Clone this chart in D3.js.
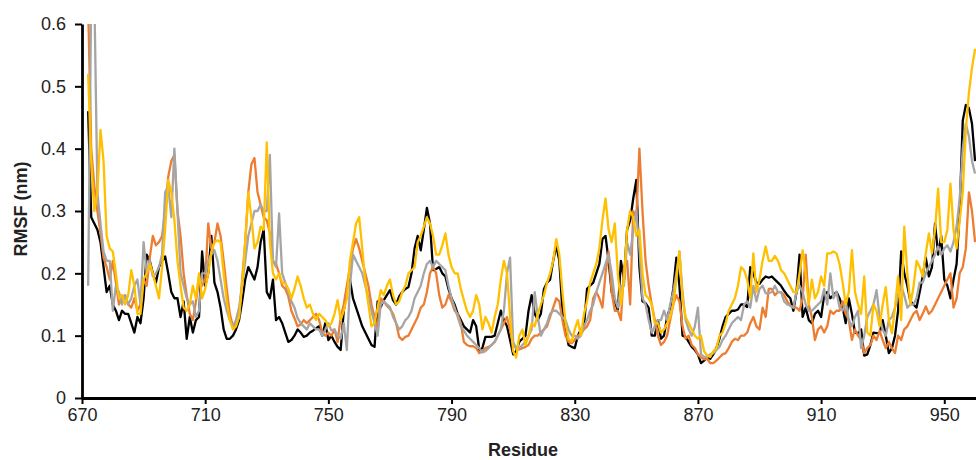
<!DOCTYPE html>
<html>
<head>
<meta charset="utf-8">
<script src="https://d3js.org/d3.v7.min.js"></script>
<style>
  body { margin: 0; background: #fff; }
  .chart text { font-family: "Liberation Sans", Arial, sans-serif; fill: #222; }
  .axis path, .axis line { stroke: #000; }
</style>
</head>
<body>
<div class="chart"></div>
<script>
// RMSF per residue, one value per residue starting at residue 672
var firstResidue = 672;

var xTicks = [670, 710, 750, 790, 830, 870, 910, 950];
var yTicks = [0, 0.1, 0.2, 0.3, 0.4, 0.5, 0.6];

var blackRmsf = [
  0.46, 0.29, 0.28, 0.27, 0.25, 0.21, 0.17, 0.18, 0.15, 0.14,
  0.125, 0.14, 0.135, 0.135, 0.12, 0.105, 0.13, 0.12, 0.16, 0.23,
  0.22, 0.2, 0.185, 0.21, 0.22, 0.227, 0.2, 0.17, 0.16, 0.16,
  0.13, 0.155, 0.095, 0.13, 0.105, 0.125, 0.13, 0.235, 0.18, 0.2,
  0.26, 0.185, 0.17, 0.145, 0.11, 0.095, 0.095, 0.1, 0.11, 0.125,
  0.155, 0.19, 0.21, 0.2, 0.19, 0.21, 0.25, 0.27, 0.17, 0.16,
  0.19, 0.125, 0.13, 0.12, 0.105, 0.09, 0.093, 0.1, 0.11, 0.105,
  0.098, 0.1, 0.105, 0.108, 0.112, 0.115, 0.1, 0.12, 0.093, 0.1,
  0.09, 0.082, 0.077, 0.14, 0.175, 0.19, 0.16, 0.145, 0.13, 0.115,
  0.105, 0.095, 0.085, 0.082, 0.155, 0.146, 0.157, 0.165, 0.173, 0.157,
  0.15, 0.163, 0.17, 0.175, 0.178, 0.2, 0.24, 0.26, 0.237, 0.27,
  0.305, 0.28, 0.205, 0.207, 0.21, 0.2, 0.195, 0.175, 0.16, 0.15,
  0.135, 0.125, 0.115, 0.11, 0.105, 0.125, 0.115, 0.077, 0.08, 0.098,
  0.098, 0.098, 0.1, 0.12, 0.14, 0.125, 0.115, 0.093, 0.07, 0.075,
  0.09, 0.095, 0.1, 0.14, 0.165, 0.135, 0.125, 0.135, 0.175, 0.185,
  0.19, 0.22, 0.245, 0.22, 0.14, 0.11, 0.085, 0.082, 0.08, 0.1,
  0.11, 0.115, 0.175, 0.18, 0.185, 0.2, 0.215, 0.255, 0.26, 0.22,
  0.17, 0.155, 0.14, 0.22, 0.19, 0.27, 0.285, 0.32, 0.35, 0.21,
  0.155, 0.152, 0.145, 0.1, 0.1, 0.125, 0.095, 0.1, 0.13, 0.145,
  0.175, 0.225, 0.18, 0.1, 0.098, 0.09, 0.082, 0.077, 0.07, 0.056,
  0.06, 0.065, 0.063, 0.07, 0.08, 0.095, 0.115, 0.13, 0.135, 0.14,
  0.14, 0.142, 0.15, 0.15, 0.146, 0.21, 0.2, 0.185, 0.183, 0.19,
  0.195, 0.193, 0.195, 0.19, 0.185, 0.18, 0.172, 0.165, 0.16, 0.14,
  0.17, 0.23, 0.13, 0.145, 0.125, 0.12, 0.135, 0.14, 0.13, 0.165,
  0.17, 0.16, 0.165, 0.17, 0.16, 0.145, 0.12, 0.16, 0.135, 0.105,
  0.104, 0.11, 0.068, 0.07, 0.085, 0.105, 0.104, 0.104, 0.125, 0.1,
  0.072, 0.08, 0.1, 0.14, 0.235, 0.2, 0.18, 0.155, 0.15, 0.145,
  0.17, 0.195, 0.225, 0.195, 0.21, 0.28, 0.23, 0.26, 0.19, 0.18,
  0.16, 0.19, 0.215, 0.3, 0.445, 0.47, 0.465, 0.44, 0.38
];

var orangeRmsf = [
  0.63, 0.4, 0.34, 0.3, 0.265, 0.225, 0.21, 0.19, 0.22, 0.185,
  0.15, 0.16, 0.165, 0.15, 0.145, 0.16, 0.14, 0.15, 0.19, 0.18,
  0.225, 0.26, 0.245, 0.25, 0.26, 0.3, 0.355, 0.38, 0.39, 0.3,
  0.26, 0.2, 0.165, 0.135, 0.125, 0.155, 0.19, 0.18, 0.19, 0.28,
  0.24, 0.25, 0.28, 0.26, 0.22, 0.175, 0.135, 0.115, 0.118, 0.13,
  0.19, 0.25, 0.33, 0.375, 0.385, 0.33, 0.31, 0.29, 0.285, 0.265,
  0.22, 0.215, 0.2, 0.18, 0.175, 0.163, 0.14, 0.128, 0.115, 0.118,
  0.125, 0.12, 0.125, 0.13, 0.135, 0.125, 0.105, 0.1, 0.105, 0.1,
  0.11, 0.09, 0.13, 0.15, 0.18, 0.21, 0.24, 0.255, 0.24, 0.22,
  0.2, 0.18, 0.15, 0.13, 0.11, 0.16, 0.155, 0.148, 0.143, 0.135,
  0.12, 0.098, 0.093, 0.098, 0.1, 0.11, 0.12, 0.13, 0.145, 0.15,
  0.17, 0.2, 0.21, 0.2, 0.165, 0.145, 0.15, 0.165, 0.155, 0.14,
  0.135, 0.12, 0.09, 0.085, 0.083, 0.083, 0.08, 0.072, 0.075, 0.08,
  0.082, 0.085, 0.09, 0.1, 0.11, 0.12, 0.13, 0.11, 0.085, 0.08,
  0.078, 0.08, 0.082, 0.085, 0.095, 0.1, 0.1, 0.105, 0.11, 0.115,
  0.13, 0.145, 0.16, 0.155, 0.125, 0.1, 0.09, 0.088, 0.093, 0.1,
  0.103, 0.11, 0.115, 0.125, 0.16, 0.17, 0.16, 0.145, 0.2, 0.235,
  0.17, 0.14, 0.14, 0.125, 0.21, 0.22, 0.15, 0.3, 0.29, 0.4,
  0.3, 0.22, 0.18, 0.15, 0.125, 0.1, 0.085, 0.09, 0.1, 0.125,
  0.15, 0.165, 0.155, 0.115, 0.095, 0.1, 0.085, 0.08, 0.07, 0.065,
  0.062, 0.063, 0.056, 0.056, 0.06, 0.065, 0.07, 0.072, 0.08, 0.09,
  0.095, 0.093, 0.1, 0.1, 0.105, 0.12, 0.13, 0.115, 0.11, 0.145,
  0.13, 0.175, 0.175, 0.165, 0.17, 0.17, 0.165, 0.155, 0.148, 0.145,
  0.145, 0.14, 0.16, 0.23, 0.15, 0.13, 0.093, 0.11, 0.115, 0.105,
  0.115, 0.14, 0.135, 0.14, 0.14, 0.155, 0.135, 0.125, 0.093, 0.11,
  0.1, 0.093, 0.072, 0.08, 0.085, 0.1, 0.093, 0.108, 0.093, 0.08,
  0.09, 0.08, 0.072, 0.1, 0.093, 0.11, 0.115, 0.125, 0.135, 0.14,
  0.125, 0.135, 0.147, 0.135, 0.14, 0.15, 0.16, 0.17, 0.18, 0.19,
  0.2, 0.145, 0.16, 0.2, 0.21, 0.24, 0.33, 0.3, 0.25
];

var grayRmsf = [
  0.18, 0.65, 0.65, 0.33, 0.28, 0.235, 0.22, 0.22, 0.14, 0.18,
  0.17, 0.15, 0.165, 0.15, 0.16, 0.18, 0.19, 0.15, 0.25, 0.2,
  0.22, 0.195, 0.2, 0.21, 0.23, 0.33, 0.34, 0.29, 0.4, 0.3,
  0.2, 0.18, 0.16, 0.15, 0.155, 0.13, 0.14, 0.2, 0.2, 0.22,
  0.23, 0.237, 0.22, 0.19, 0.16, 0.14, 0.125, 0.115, 0.125, 0.145,
  0.18, 0.22, 0.26, 0.28, 0.3, 0.3, 0.31, 0.3, 0.3, 0.39,
  0.22, 0.21, 0.296, 0.2, 0.185, 0.17, 0.155, 0.145, 0.128, 0.12,
  0.115, 0.11, 0.12, 0.115, 0.11, 0.11, 0.1, 0.11, 0.12, 0.108,
  0.11, 0.1, 0.095, 0.12, 0.077, 0.18, 0.23, 0.22, 0.21, 0.2,
  0.18, 0.16, 0.14, 0.12, 0.1, 0.15, 0.155, 0.15, 0.146, 0.13,
  0.12, 0.11, 0.115, 0.125, 0.13, 0.14, 0.16, 0.17, 0.18, 0.2,
  0.215, 0.22, 0.21, 0.22, 0.215, 0.21, 0.205, 0.18, 0.16, 0.145,
  0.13, 0.115, 0.108, 0.1, 0.095, 0.09, 0.085, 0.08, 0.073, 0.075,
  0.08, 0.085, 0.09, 0.1, 0.11, 0.14, 0.2, 0.225, 0.09, 0.08,
  0.08, 0.085, 0.09, 0.1, 0.11, 0.17, 0.13, 0.1, 0.11, 0.12,
  0.135, 0.14, 0.14, 0.135, 0.13, 0.125, 0.11, 0.1, 0.1, 0.095,
  0.1, 0.115, 0.125, 0.14, 0.15, 0.17, 0.185, 0.2, 0.215, 0.23,
  0.2, 0.16, 0.145, 0.18, 0.18, 0.25, 0.23, 0.27, 0.3, 0.24,
  0.16, 0.15, 0.125, 0.105, 0.115, 0.125, 0.125, 0.14, 0.125, 0.15,
  0.17, 0.2, 0.235, 0.17, 0.125, 0.11, 0.1, 0.115, 0.145, 0.07,
  0.066, 0.066, 0.07, 0.072, 0.077, 0.082, 0.093, 0.1, 0.11, 0.12,
  0.125, 0.13, 0.125, 0.15, 0.155, 0.145, 0.18, 0.155, 0.175, 0.18,
  0.168, 0.168, 0.17, 0.18, 0.17, 0.17, 0.155, 0.15, 0.148, 0.145,
  0.17, 0.18, 0.17, 0.15, 0.14, 0.14, 0.145, 0.15, 0.155, 0.175,
  0.15, 0.2, 0.16, 0.17, 0.145, 0.14, 0.155, 0.125, 0.115, 0.13,
  0.14, 0.08, 0.1, 0.13, 0.14, 0.15, 0.173, 0.13, 0.11, 0.1,
  0.125, 0.13, 0.145, 0.165, 0.18, 0.165, 0.145, 0.15, 0.15, 0.16,
  0.185, 0.185, 0.2, 0.21, 0.22, 0.23, 0.243, 0.23, 0.24, 0.245,
  0.235, 0.25, 0.275, 0.32, 0.4, 0.44, 0.42, 0.38, 0.36
];

var goldRmsf = [
  0.52, 0.38, 0.3, 0.33, 0.43, 0.38, 0.26, 0.24, 0.235, 0.2,
  0.16, 0.165, 0.15, 0.165, 0.205, 0.18, 0.135, 0.135, 0.19, 0.2,
  0.215, 0.2, 0.18, 0.16, 0.21, 0.27, 0.35, 0.33, 0.285, 0.22,
  0.18, 0.145, 0.14, 0.15, 0.18, 0.16, 0.2, 0.16, 0.175, 0.2,
  0.235, 0.25, 0.253, 0.25, 0.2, 0.155, 0.125, 0.11, 0.115, 0.13,
  0.18, 0.25, 0.33, 0.29, 0.24, 0.25, 0.275, 0.27, 0.41, 0.25,
  0.2, 0.19, 0.2, 0.185, 0.184, 0.175, 0.16, 0.175, 0.195, 0.18,
  0.16, 0.145, 0.15, 0.135, 0.125, 0.135, 0.13, 0.125, 0.115, 0.12,
  0.135, 0.157, 0.125, 0.14, 0.16, 0.22, 0.25, 0.28, 0.29, 0.24,
  0.185, 0.15, 0.115, 0.12, 0.145, 0.173, 0.165, 0.18, 0.19, 0.165,
  0.15, 0.155, 0.17, 0.18, 0.2, 0.205, 0.21, 0.25, 0.26, 0.275,
  0.29, 0.28, 0.26, 0.23, 0.23, 0.245, 0.264, 0.23, 0.21, 0.2,
  0.2, 0.175, 0.157, 0.14, 0.13, 0.14, 0.165, 0.15, 0.11, 0.13,
  0.12, 0.105, 0.13, 0.15, 0.19, 0.22, 0.2, 0.13, 0.075, 0.065,
  0.1, 0.11, 0.085, 0.1, 0.12, 0.115, 0.135, 0.15, 0.165, 0.185,
  0.2, 0.22, 0.255, 0.23, 0.17, 0.12, 0.095, 0.09, 0.11, 0.125,
  0.1, 0.135, 0.155, 0.185, 0.2, 0.215, 0.24, 0.285, 0.32, 0.27,
  0.25, 0.28, 0.2, 0.15, 0.19, 0.27, 0.3, 0.29, 0.26, 0.27,
  0.2, 0.165, 0.16, 0.15, 0.12, 0.12, 0.105, 0.11, 0.12, 0.13,
  0.15, 0.19, 0.235, 0.16, 0.13, 0.12, 0.11, 0.1, 0.095, 0.1,
  0.075, 0.068, 0.066, 0.075, 0.08, 0.1, 0.105, 0.12, 0.14, 0.15,
  0.16, 0.18, 0.21, 0.205, 0.19, 0.16, 0.232, 0.17, 0.19, 0.22,
  0.243, 0.22, 0.22, 0.228, 0.22, 0.205, 0.2, 0.19, 0.18, 0.17,
  0.17, 0.2, 0.237, 0.2, 0.15, 0.19, 0.16, 0.17, 0.195, 0.18,
  0.232, 0.232, 0.235, 0.232, 0.215, 0.185, 0.15, 0.17, 0.237, 0.17,
  0.15, 0.135, 0.195, 0.105, 0.1, 0.15, 0.14, 0.115, 0.15, 0.178,
  0.125, 0.104, 0.145, 0.195, 0.125, 0.275, 0.2, 0.15, 0.178, 0.22,
  0.21, 0.195, 0.232, 0.264, 0.232, 0.27, 0.336, 0.25, 0.25, 0.27,
  0.344, 0.27, 0.24, 0.285, 0.33, 0.43, 0.49, 0.53, 0.56
];

// drawn in this order, last one on top
var series = [
  {name: "black", color: "#000000", values: blackRmsf},
  {name: "orange", color: "#ED7D31", values: orangeRmsf},
  {name: "gray", color: "#A5A5A5", values: grayRmsf},
  {name: "gold", color: "#FFC000", values: goldRmsf}
];

var svgWidth = 976;
var svgHeight = 460;

var margin = {
  top: 24,
  right: 0,
  bottom: 62,
  left: 82
};

var height = svgHeight - margin.top - margin.bottom;
var width = svgWidth - margin.left - margin.right;

var svg = d3.select(".chart")
  .append("svg")
  .attr("width", svgWidth)
  .attr("height", svgHeight);

var chartGroup = svg.append("g")
  .attr("transform", `translate(${margin.left}, ${margin.top})`);

// scales
var xLinearScale = d3.scaleLinear()
  .domain([670, 960.3])
  .range([0, width]);

var yLinearScale = d3.scaleLinear()
  .domain([0, 0.6])
  .range([height, 0]);

// clip lines at the axis box (some values go past 0.6)
svg.append("defs").append("clipPath")
  .attr("id", "plot-clip")
  .append("rect")
  .attr("x", 0)
  .attr("y", 0)
  .attr("width", width)
  .attr("height", height);

var line = d3.line()
  .x((d, i) => xLinearScale(firstResidue + i))
  .y(d => yLinearScale(d));

chartGroup.append("g")
  .attr("clip-path", "url(#plot-clip)")
  .selectAll("path")
  .data(series)
  .enter()
  .append("path")
  .attr("d", d => line(d.values))
  .attr("fill", "none")
  .attr("stroke", d => d.color)
  .attr("stroke-width", 2.3)
  .attr("stroke-linejoin", "round");

// axes
var bottomAxis = d3.axisBottom(xLinearScale)
  .tickValues(xTicks)
  .tickFormat(d3.format("d"))
  .tickSize(6)
  .tickSizeOuter(0)
  .tickPadding(4);

var leftAxis = d3.axisLeft(yLinearScale)
  .tickValues(yTicks)
  .tickFormat(d => d === 0 ? "0" : d.toFixed(1))
  .tickSize(7)
  .tickSizeOuter(0)
  .tickPadding(9);

chartGroup.append("g")
  .attr("class", "axis")
  .attr("transform", `translate(0, ${height})`)
  .call(bottomAxis);

chartGroup.append("g")
  .attr("class", "axis")
  .call(leftAxis);

chartGroup.selectAll(".axis .domain").attr("stroke-width", 2.8);
chartGroup.selectAll(".axis .tick line").attr("stroke-width", 2);
chartGroup.selectAll(".axis text")
  .attr("font-size", 18);

// axis titles
chartGroup.append("text")
  .attr("transform", `translate(${width / 2 - 6}, ${height + 58})`)
  .attr("text-anchor", "middle")
  .attr("font-size", 18)
  .attr("font-weight", "bold")
  .text("Residue");

chartGroup.append("text")
  .attr("transform", `translate(${-margin.left + 27}, ${height / 2 - 2}) rotate(-90)`)
  .attr("text-anchor", "middle")
  .attr("font-size", 18)
  .attr("font-weight", "bold")
  .text("RMSF (nm)");
</script>
</body>
</html>
